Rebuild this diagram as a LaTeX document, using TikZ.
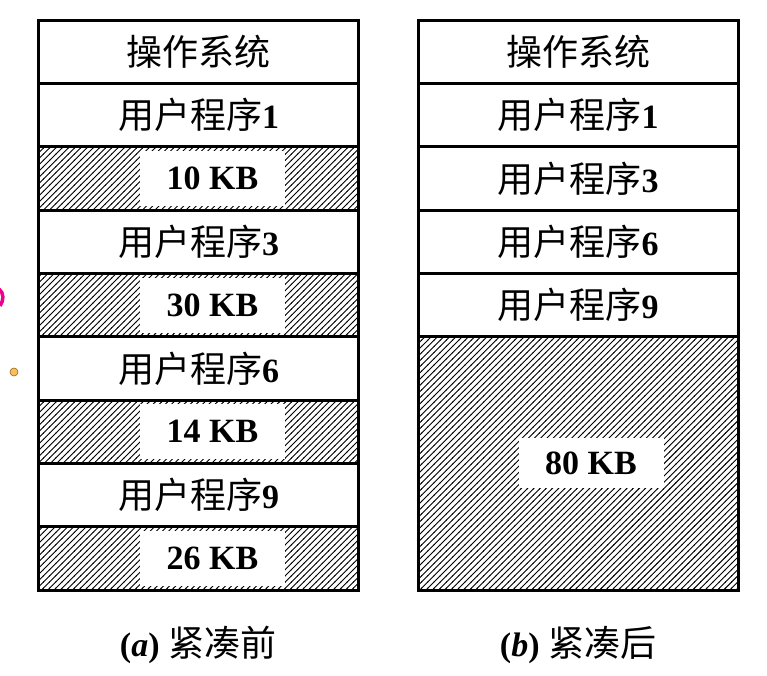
\documentclass[tikz,border=0pt]{standalone}
\usepackage{fontspec}
\setmainfont{Liberation Serif}
\newfontfamily\cjk{Noto Sans CJK SC}
\usetikzlibrary{patterns.meta}
\tikzdeclarepattern{name=hatch, type=uncolored, bottom left={(-.5pt,-.5pt)}, top right={(6.7pt,6.7pt)}, tile size={(6.2pt,6.2pt)}, tile transformation={rotate=0}, code={\draw[line width=0.9pt] (-0.5pt,-0.5pt) -- (6.7pt,6.7pt);}}
\begin{document}
\begin{tikzpicture}[x=1pt,y=-1pt,
  cell/.style={draw, line width=3pt, outer sep=0pt, minimum width=320pt, minimum height=63.33pt, inner sep=0pt, anchor=north west, font=\fontsize{34}{40}\selectfont},
  free/.style={cell, pattern=hatch, line width=3pt},
  tag/.style={fill=white, minimum width=145pt, minimum height=55pt, inner sep=0pt, font=\fontsize{34}{40}\selectfont\bfseries},
  captext/.style={font=\fontsize{34}{40}\selectfont, inner sep=0pt}]
\useasboundingbox (0,0) rectangle (767,675);
% left column (before compaction)
\node[cell] (l0) at (38.5,20) {\cjk\fontsize{36}{40}\selectfont 操作系统};
\node[cell] (l1) at (38.5,83.33) {{\cjk\fontsize{36}{40}\selectfont 用户程序}\textbf{1}};
\node[free] (l2) at (38.5,146.67) {};
\node[tag] (t2) at ([xshift=14pt]l2.center) {10 KB};
\node[cell] (l3) at (38.5,210) {{\cjk\fontsize{36}{40}\selectfont 用户程序}\textbf{3}};
\node[free] (l4) at (38.5,273.33) {};
\node[tag] (t4) at ([xshift=14pt]l4.center) {30 KB};
\node[cell] (l5) at (38.5,336.67) {{\cjk\fontsize{36}{40}\selectfont 用户程序}\textbf{6}};
\node[free] (l6) at (38.5,400) {};
\node[tag] (t6) at ([xshift=14pt]l6.center) {14 KB};
\node[cell] (l7) at (38.5,463.33) {{\cjk\fontsize{36}{40}\selectfont 用户程序}\textbf{9}};
\node[free] (l8) at (38.5,526.67) {};
\node[tag] (t8) at ([xshift=14pt]l8.center) {26 KB};
% right column (after compaction)
\node[cell] (r0) at (418,20) {\cjk\fontsize{36}{40}\selectfont 操作系统};
\node[cell] (r1) at (418,83.33) {{\cjk\fontsize{36}{40}\selectfont 用户程序}\textbf{1}};
\node[cell] (r2) at (418,146.67) {{\cjk\fontsize{36}{40}\selectfont 用户程序}\textbf{3}};
\node[cell] (r3) at (418,210) {{\cjk\fontsize{36}{40}\selectfont 用户程序}\textbf{6}};
\node[cell] (r4) at (418,273.33) {{\cjk\fontsize{36}{40}\selectfont 用户程序}\textbf{9}};
\node[free, minimum height=253.33pt] (r5) at (418,336.67) {};
\node[tag, minimum height=50pt] (t5) at ([xshift=13pt]r5.center) {80 KB};
% captions
\node[captext] (ca) at (198,645) {\textbf{(\textit{a})} {\cjk\fontsize{36}{40}\selectfont 紧凑前}};
\node[captext] (cb) at (578,645) {\textbf{(\textit{b})} {\cjk\fontsize{36}{40}\selectfont 紧凑后}};
% stray marks at the left edge
\draw[magenta, line width=3.5pt] (-1,289) .. controls (4,293) and (4,300) .. (0,306);
\node[circle, fill={rgb,255:red,250;green,190;blue,90}, draw={rgb,255:red,150;green,100;blue,30}, line width=0.6pt, minimum size=8pt, inner sep=0pt] (dot) at (14,372) {};
\end{tikzpicture}
\end{document}
